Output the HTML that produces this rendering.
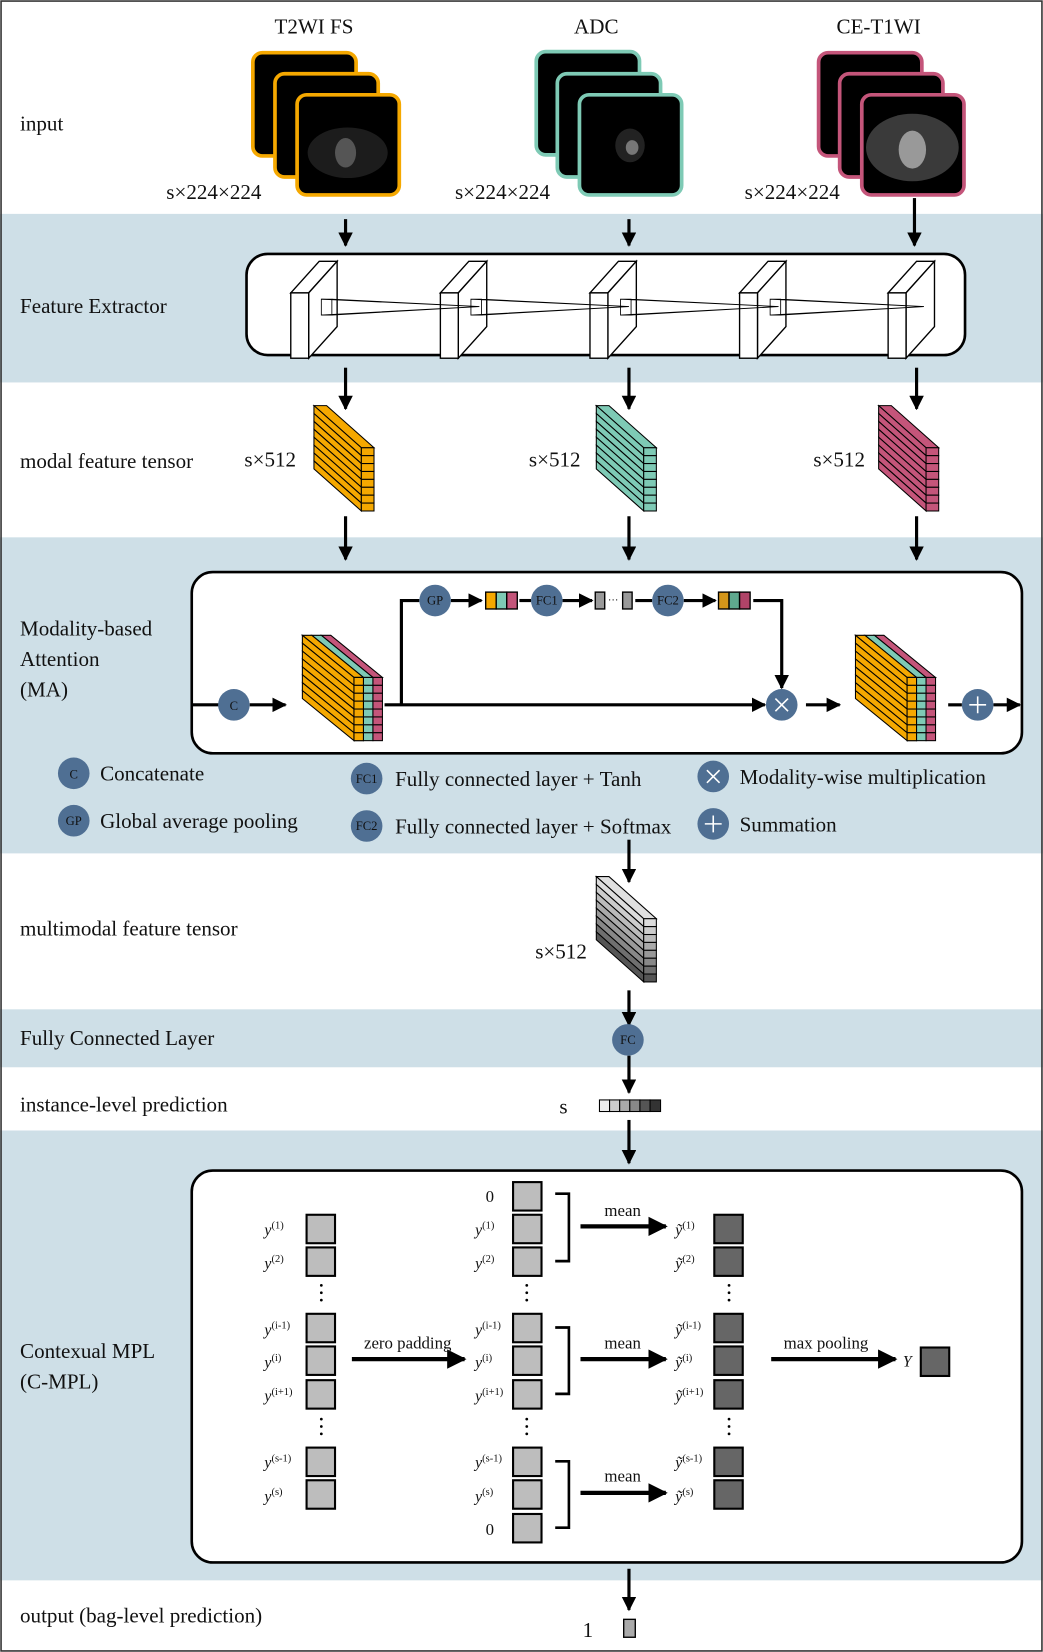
<!DOCTYPE html>
<html><head><meta charset="utf-8"><style>
html,body{margin:0;padding:0;background:#fff}
svg{display:block}
text{font-family:"Liberation Serif",serif;fill:#111}
.lb{font-size:20px}
.ci{font-size:12px;fill:#fff;text-anchor:middle}
.lg{font-size:20px}
.yl{font-size:15px;font-style:italic}
.sp{font-size:10px;font-style:normal}
</style></head><body>
<svg width="1043" height="1652" viewBox="0 0 990 1568" preserveAspectRatio="none" xmlns="http://www.w3.org/2000/svg">
<defs>
<marker id="ah" viewBox="0 0 10 10" refX="9" refY="5" markerWidth="4.6" markerHeight="4.6" orient="auto"><path d="M0,0L10,5L0,10z" fill="#000"/></marker>
<g id="ten" stroke="#000" stroke-width="1">
<polygon points="0,0 12,0 57,40 45,40" fill="currentColor"/>
<g fill="currentColor">
<polygon points="0,0 45,40 45,47.5 0,7.5"/><polygon points="0,7.5 45,47.5 45,55 0,15"/><polygon points="0,15 45,55 45,62.5 0,22.5"/><polygon points="0,22.5 45,62.5 45,70 0,30"/><polygon points="0,30 45,70 45,77.5 0,37.5"/><polygon points="0,37.5 45,77.5 45,85 0,45"/><polygon points="0,45 45,85 45,92.5 0,52.5"/><polygon points="0,52.5 45,92.5 45,100 0,60"/>
<rect x="45" y="40" width="12" height="7.5"/><rect x="45" y="47.5" width="12" height="7.5"/><rect x="45" y="55" width="12" height="7.5"/><rect x="45" y="62.5" width="12" height="7.5"/><rect x="45" y="70" width="12" height="7.5"/><rect x="45" y="77.5" width="12" height="7.5"/><rect x="45" y="85" width="12" height="7.5"/><rect x="45" y="92.5" width="12" height="7.5"/>
</g></g>
<g id="cat" stroke="#000" stroke-width="1">
<polygon points="18,0 27,0 76,40 67,40" fill="#c4557a"/>
<polygon points="9,0 18,0 67,40 58,40" fill="#7ecab5"/>
<polygon points="0,0 9,0 58,40 49,40" fill="#f5a800"/>
<g fill="#f5a800">
<polygon points="0,0 49,40 49,47.5 0,7.5"/><polygon points="0,7.5 49,47.5 49,55 0,15"/><polygon points="0,15 49,55 49,62.5 0,22.5"/><polygon points="0,22.5 49,62.5 49,70 0,30"/><polygon points="0,30 49,70 49,77.5 0,37.5"/><polygon points="0,37.5 49,77.5 49,85 0,45"/><polygon points="0,45 49,85 49,92.5 0,52.5"/><polygon points="0,52.5 49,92.5 49,100 0,60"/>
</g>
<g id="col"><rect x="49" y="40" width="9" height="7.5"/><rect x="49" y="47.5" width="9" height="7.5"/><rect x="49" y="55" width="9" height="7.5"/><rect x="49" y="62.5" width="9" height="7.5"/><rect x="49" y="70" width="9" height="7.5"/><rect x="49" y="77.5" width="9" height="7.5"/><rect x="49" y="85" width="9" height="7.5"/><rect x="49" y="92.5" width="9" height="7.5"/></g>
<use href="#col" fill="#f5a800"/>
<g transform="translate(9,0)" fill="#7ecab5"><use href="#col"/></g>
<g transform="translate(18,0)" fill="#c4557a"><use href="#col"/></g>
</g>
<g id="slab" stroke="#000" stroke-width="1.3" fill="#fff">
<polygon points="0,20 17,20 44,-10 27,-10"/>
<polygon points="17,20 44,-10 44,52 17,82"/>
<rect x="0" y="20" width="17" height="62"/>
</g>
</defs>

<rect x="0" y="0" width="990" height="1568" fill="#fff"/>
<g fill="#cedfe7">
<rect x="0" y="203" width="990" height="160"/>
<rect x="0" y="510" width="990" height="300"/>
<rect x="0" y="958" width="990" height="55"/>
<rect x="0" y="1073" width="990" height="427"/>
</g>
<rect x="1" y="1" width="988" height="1566" fill="none" stroke="#333" stroke-width="1.5"/>

<g class="lb">
<text x="19" y="124">input</text>
<text x="19" y="297">Feature Extractor</text>
<text x="19" y="444">modal feature tensor</text>
<text x="19" y="603">Modality-based</text>
<text x="19" y="632">Attention</text>
<text x="19" y="661">(MA)</text>
<text x="19" y="888">multimodal feature tensor</text>
<text x="19" y="992">Fully Connected Layer</text>
<text x="19" y="1055">instance-level prediction</text>
<text x="19" y="1289">Contexual MPL</text>
<text x="19" y="1318">(C-MPL)</text>
<text x="19" y="1540">output (bag-level prediction)</text>
</g>

<g class="lb" text-anchor="middle">
<text x="298" y="32">T2WI FS</text><text x="566" y="32">ADC</text><text x="834" y="32">CE-T1WI</text>
<text x="203" y="189">s×224×224</text><text x="477" y="189">s×224×224</text><text x="752" y="189">s×224×224</text>
</g>
<g stroke-width="3.5" fill="#000">
<g stroke="#f5a800"><rect x="240" y="50" width="98" height="98" rx="9"/><rect x="261" y="70" width="98" height="98" rx="9"/><rect x="282" y="90" width="97" height="95" rx="9"/></g>
<g stroke="#7ecab5"><rect x="509" y="49" width="98" height="98" rx="9"/><rect x="529" y="70" width="98" height="98" rx="9"/><rect x="550" y="90" width="97" height="95" rx="9"/></g>
<g stroke="#c4557a"><rect x="777" y="50" width="98" height="98" rx="9"/><rect x="797" y="70" width="98" height="98" rx="9"/><rect x="818" y="90" width="97" height="95" rx="9"/></g>
</g>
<ellipse cx="330" cy="145" rx="38" ry="24" fill="#1c1c1c"/><ellipse cx="328" cy="145" rx="10" ry="14" fill="#555"/>
<ellipse cx="598" cy="138" rx="14" ry="16" fill="#222"/><ellipse cx="600" cy="140" rx="6" ry="7" fill="#777"/>
<ellipse cx="866" cy="140" rx="44" ry="32" fill="#3a3a3a"/><ellipse cx="866" cy="142" rx="13" ry="18" fill="#999"/>

<g stroke="#000" stroke-width="3" marker-end="url(#ah)">
<line x1="328" y1="208" x2="328" y2="233"/><line x1="597" y1="208" x2="597" y2="233"/><line x1="868" y1="188" x2="868" y2="233"/>
<line x1="328" y1="349" x2="328" y2="388"/><line x1="597" y1="349" x2="597" y2="388"/><line x1="870" y1="349" x2="870" y2="388"/>
<line x1="328" y1="490" x2="328" y2="531"/><line x1="597" y1="490" x2="597" y2="531"/><line x1="870" y1="490" x2="870" y2="531"/>
<line x1="597" y1="797" x2="597" y2="837"/>
<line x1="597" y1="940" x2="597" y2="973"/>
<line x1="597" y1="1002" x2="597" y2="1037"/>
<line x1="597" y1="1063" x2="597" y2="1104"/>
<line x1="597" y1="1489" x2="597" y2="1528"/>
</g>

<rect x="234" y="241" width="682" height="96" rx="20" fill="#fff" stroke="#000" stroke-width="2.5"/>
<use href="#slab" x="276" y="258"/><use href="#slab" x="418" y="258"/><use href="#slab" x="560" y="258"/><use href="#slab" x="702" y="258"/><use href="#slab" x="843" y="258"/>
<g stroke="#000" stroke-width="0.8" fill="none">
<path d="M305,284h10v15h-10z"/>
<path d="M305,299L455,291M315,284L455,291M305,284L455,291M315,299L455,291"/>
<path d="M447,284h10v15h-10zM447,299L597,291M457,284L597,291M447,284L597,291M457,299L597,291"/>
<path d="M589,284h10v15h-10zM589,299L739,291M599,284L739,291M589,284L739,291M599,299L739,291"/>
<path d="M731,284h10v15h-10zM731,299L877,291M741,284L877,291M731,284L877,291M741,299L877,291"/>
</g>

<use href="#ten" x="298" y="385" color="#f5a800"/>
<use href="#ten" x="566" y="385" color="#7ecab5"/>
<use href="#ten" x="834" y="385" color="#c4557a"/>
<g class="lb"><text x="232" y="443">s×512</text><text x="502" y="443">s×512</text><text x="772" y="443">s×512</text></g>

<rect x="182" y="543" width="788" height="172" rx="20" fill="#fff" stroke="#000" stroke-width="2.5"/>
<g stroke="#000" stroke-width="3" fill="none">
<line x1="183" y1="669" x2="208" y2="669"/>
<line x1="237" y1="669" x2="271" y2="669" marker-end="url(#ah)"/>
<line x1="365" y1="669" x2="726" y2="669" marker-end="url(#ah)"/>
<polyline points="381,669 381,570 398,570"/>
<line x1="428" y1="570" x2="457" y2="570" marker-end="url(#ah)"/>
<line x1="493" y1="570" x2="504" y2="570"/>
<line x1="534" y1="570" x2="562" y2="570" marker-end="url(#ah)"/>
<line x1="603" y1="570" x2="619" y2="570"/>
<line x1="649" y1="570" x2="679" y2="570" marker-end="url(#ah)"/>
<polyline points="715,570 742,570 742,653" marker-end="url(#ah)"/>
<line x1="765" y1="669" x2="797" y2="669" marker-end="url(#ah)"/>
<line x1="900" y1="669" x2="913" y2="669"/>
<line x1="943" y1="669" x2="968" y2="669" marker-end="url(#ah)"/>
</g>
<use href="#cat" x="287" y="603"/>
<use href="#cat" x="812" y="603"/>
<g stroke="#000" stroke-width="1.3">
<rect x="461" y="562" width="10" height="16" fill="#f5a800"/><rect x="471" y="562" width="10" height="16" fill="#7ecab5"/><rect x="481" y="562" width="10" height="16" fill="#c4557a"/>
<rect x="682" y="562" width="10" height="16" fill="#d4961a"/><rect x="692" y="562" width="10" height="16" fill="#5fa88e"/><rect x="702" y="562" width="10" height="16" fill="#b04468"/>
<rect x="565" y="562" width="9" height="16" fill="#999"/><rect x="591" y="562" width="9" height="16" fill="#999"/>
</g>
<text x="582" y="573" font-size="10" text-anchor="middle">···</text>
<g fill="#4f6f93">
<circle cx="222" cy="669" r="15"/><circle cx="413" cy="570" r="15"/><circle cx="519" cy="570" r="15"/><circle cx="634" cy="570" r="15"/><circle cx="742" cy="669" r="15"/><circle cx="928" cy="669" r="15"/>
<circle cx="70" cy="734" r="15"/><circle cx="70" cy="779" r="15"/><circle cx="348" cy="739" r="15"/><circle cx="348" cy="784" r="15"/><circle cx="677" cy="737" r="15"/><circle cx="677" cy="782" r="15"/>
<circle cx="596" cy="987" r="15"/>
</g>
<g class="ci">
<text x="222" y="674">C</text><text x="413" y="574">GP</text><text x="519" y="574">FC1</text><text x="634" y="574">FC2</text>
<text x="70" y="739">C</text><text x="70" y="783">GP</text><text x="348" y="743">FC1</text><text x="348" y="788">FC2</text>
<text x="596" y="991">FC</text>
</g>
<g stroke="#fff" stroke-width="1.5">
<path d="M736,663l12,12M748,663l-12,12M671,731l12,12M683,731l-12,12"/>
<path d="M928,661v16M920,669h16M677,774v16M669,782h16"/>
</g>
<g class="lg">
<text x="95" y="741">Concatenate</text><text x="95" y="786">Global average pooling</text>
<text x="375" y="746">Fully connected layer + Tanh</text><text x="375" y="791">Fully connected layer + Softmax</text>
<text x="702" y="744">Modality-wise multiplication</text><text x="702" y="789">Summation</text>
</g>

<g stroke="#000" stroke-width="1">
<polygon points="566,832 578,832 623,872 611,872" fill="#e0e0e0"/>
<polygon points="566,832 611,872 611,879.5 566,839.5" fill="#ddd"/><rect x="611" y="872" width="12" height="7.5" fill="#ddd"/>
<polygon points="566,839.5 611,879.5 611,887 566,847" fill="#ccc"/><rect x="611" y="879.5" width="12" height="7.5" fill="#ccc"/>
<polygon points="566,847 611,887 611,894.5 566,854.5" fill="#bbb"/><rect x="611" y="887" width="12" height="7.5" fill="#bbb"/>
<polygon points="566,854.5 611,894.5 611,902 566,862" fill="#aaa"/><rect x="611" y="894.5" width="12" height="7.5" fill="#aaa"/>
<polygon points="566,862 611,902 611,909.5 566,869.5" fill="#999"/><rect x="611" y="902" width="12" height="7.5" fill="#999"/>
<polygon points="566,869.5 611,909.5 611,917 566,877" fill="#888"/><rect x="611" y="909.5" width="12" height="7.5" fill="#888"/>
<polygon points="566,877 611,917 611,924.5 566,884.5" fill="#6f6f6f"/><rect x="611" y="917" width="12" height="7.5" fill="#6f6f6f"/>
<polygon points="566,884.5 611,924.5 611,932 566,892" fill="#555"/><rect x="611" y="924.5" width="12" height="7.5" fill="#555"/>
</g>
<text class="lb" x="508" y="910">s×512</text>

<g stroke="#000" stroke-width="1">
<rect x="569" y="1044" width="9.6" height="11" fill="#eee"/><rect x="578.6" y="1044" width="9.6" height="11" fill="#ccc"/><rect x="588.2" y="1044" width="9.6" height="11" fill="#aaa"/><rect x="597.8" y="1044" width="9.6" height="11" fill="#888"/><rect x="607.4" y="1044" width="9.6" height="11" fill="#555"/><rect x="617" y="1044" width="10" height="11" fill="#333"/>
</g>
<text class="lb" x="531" y="1057">s</text>

<rect x="182" y="1111" width="788" height="372" rx="20" fill="#fff" stroke="#000" stroke-width="2.5"/>
<g stroke="#000" stroke-width="2" fill="#bdbdbd">
<rect x="291" y="1153" width="27" height="27"/><rect x="291" y="1184" width="27" height="27"/><rect x="291" y="1247" width="27" height="27"/><rect x="291" y="1278" width="27" height="27"/><rect x="291" y="1310" width="27" height="27"/><rect x="291" y="1374" width="27" height="27"/><rect x="291" y="1405" width="27" height="27"/>
<rect x="487" y="1122" width="27" height="27"/><rect x="487" y="1153" width="27" height="27"/><rect x="487" y="1184" width="27" height="27"/><rect x="487" y="1247" width="27" height="27"/><rect x="487" y="1278" width="27" height="27"/><rect x="487" y="1310" width="27" height="27"/><rect x="487" y="1374" width="27" height="27"/><rect x="487" y="1405" width="27" height="27"/><rect x="487" y="1437" width="27" height="27"/>
</g>
<g stroke="#000" stroke-width="2" fill="#666">
<rect x="678" y="1153" width="27" height="27"/><rect x="678" y="1184" width="27" height="27"/><rect x="678" y="1247" width="27" height="27"/><rect x="678" y="1278" width="27" height="27"/><rect x="678" y="1310" width="27" height="27"/><rect x="678" y="1374" width="27" height="27"/><rect x="678" y="1405" width="27" height="27"/>
<rect x="874" y="1279" width="27" height="27"/>
</g>
<g fill="#000">
<circle cx="305" cy="1220" r="1.3"/><circle cx="305" cy="1227" r="1.3"/><circle cx="305" cy="1234" r="1.3"/>
<circle cx="305" cy="1347" r="1.3"/><circle cx="305" cy="1354" r="1.3"/><circle cx="305" cy="1361" r="1.3"/>
<circle cx="500" cy="1220" r="1.3"/><circle cx="500" cy="1227" r="1.3"/><circle cx="500" cy="1234" r="1.3"/>
<circle cx="500" cy="1347" r="1.3"/><circle cx="500" cy="1354" r="1.3"/><circle cx="500" cy="1361" r="1.3"/>
<circle cx="692" cy="1220" r="1.3"/><circle cx="692" cy="1227" r="1.3"/><circle cx="692" cy="1234" r="1.3"/>
<circle cx="692" cy="1347" r="1.3"/><circle cx="692" cy="1354" r="1.3"/><circle cx="692" cy="1361" r="1.3"/>
</g>
<g stroke="#000" stroke-width="2.5" fill="none">
<polyline points="527,1133 540,1133 540,1197 527,1197"/>
<polyline points="527,1260 540,1260 540,1323 527,1323"/>
<polyline points="527,1387 540,1387 540,1450 527,1450"/>
</g>
<g stroke="#000" stroke-width="4" marker-end="url(#ah)">
<line x1="551" y1="1164" x2="632" y2="1164"/><line x1="551" y1="1290" x2="632" y2="1290"/><line x1="551" y1="1417" x2="632" y2="1417"/>
<line x1="334" y1="1290" x2="441" y2="1290"/><line x1="732" y1="1290" x2="850" y2="1290"/>
</g>
<g font-size="16" text-anchor="middle">
<text x="591" y="1154">mean</text><text x="591" y="1280">mean</text><text x="591" y="1406">mean</text>
<text x="387" y="1280">zero padding</text><text x="784" y="1280">max pooling</text>
</g>
<g font-size="16"><text x="461" y="1141">0</text><text x="461" y="1457">0</text></g>
<g class="yl">
<text x="251" y="1172">y<tspan class="sp" dy="-6">(1)</tspan></text>
<text x="251" y="1204">y<tspan class="sp" dy="-6">(2)</tspan></text>
<text x="251" y="1267">y<tspan class="sp" dy="-6">(i-1)</tspan></text>
<text x="251" y="1298">y<tspan class="sp" dy="-6">(i)</tspan></text>
<text x="251" y="1330">y<tspan class="sp" dy="-6">(i+1)</tspan></text>
<text x="251" y="1393">y<tspan class="sp" dy="-6">(s-1)</tspan></text>
<text x="251" y="1425">y<tspan class="sp" dy="-6">(s)</tspan></text>
<text x="451" y="1172">y<tspan class="sp" dy="-6">(1)</tspan></text>
<text x="451" y="1204">y<tspan class="sp" dy="-6">(2)</tspan></text>
<text x="451" y="1267">y<tspan class="sp" dy="-6">(i-1)</tspan></text>
<text x="451" y="1298">y<tspan class="sp" dy="-6">(i)</tspan></text>
<text x="451" y="1330">y<tspan class="sp" dy="-6">(i+1)</tspan></text>
<text x="451" y="1393">y<tspan class="sp" dy="-6">(s-1)</tspan></text>
<text x="451" y="1425">y<tspan class="sp" dy="-6">(s)</tspan></text>
<text x="641" y="1172">ỹ<tspan class="sp" dy="-6">(1)</tspan></text>
<text x="641" y="1204">ỹ<tspan class="sp" dy="-6">(2)</tspan></text>
<text x="641" y="1267">ỹ<tspan class="sp" dy="-6">(i-1)</tspan></text>
<text x="641" y="1298">ỹ<tspan class="sp" dy="-6">(i)</tspan></text>
<text x="641" y="1330">ỹ<tspan class="sp" dy="-6">(i+1)</tspan></text>
<text x="641" y="1393">ỹ<tspan class="sp" dy="-6">(s-1)</tspan></text>
<text x="641" y="1425">ỹ<tspan class="sp" dy="-6">(s)</tspan></text>
<text x="857" y="1297">Y</text>
</g>

<rect x="592" y="1537" width="11" height="17" fill="#aaa" stroke="#000" stroke-width="1.3"/>
<text class="lb" x="553" y="1554">1</text>
</svg>
</body></html>
